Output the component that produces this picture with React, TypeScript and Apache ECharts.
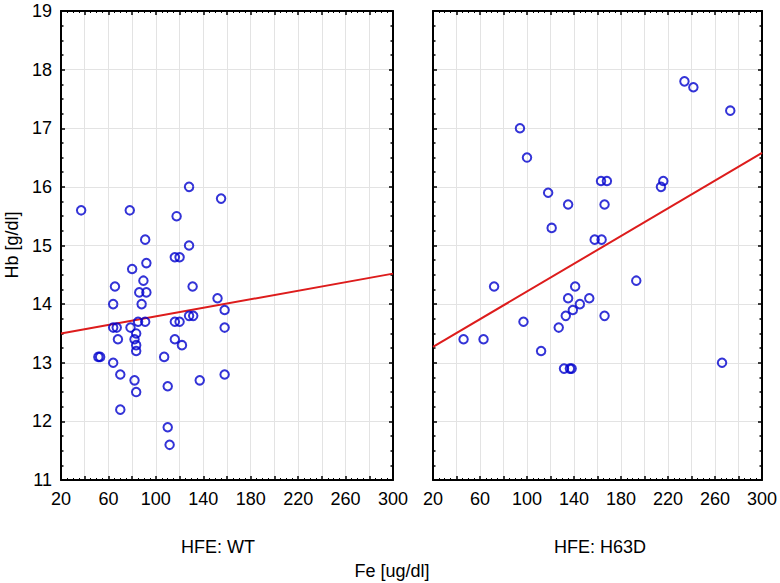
import React, { useEffect, useRef } from "react";
import * as echarts from "echarts";

// HFE: WT group
const wtFe = [37, 78, 128, 155, 117.5, 91, 128, 80, 92, 116, 120, 65.5, 89.5, 86, 92, 131, 64, 88, 152, 158, 128, 131.5, 64, 67, 78.6, 85, 91, 83.4, 82, 68, 116, 120, 116, 122, 158, 83.4, 83.4, 51.5, 53, 107, 64, 70, 82, 137, 158, 110, 83.4, 70, 110, 111.6];
const wtHb = [15.6, 15.6, 16.0, 15.8, 15.5, 15.1, 15.0, 14.6, 14.7, 14.8, 14.8, 14.3, 14.4, 14.2, 14.2, 14.3, 14.0, 14.0, 14.1, 13.9, 13.8, 13.8, 13.6, 13.6, 13.6, 13.7, 13.7, 13.5, 13.4, 13.4, 13.7, 13.7, 13.4, 13.3, 13.6, 13.3, 13.2, 13.1, 13.1, 13.1, 13.0, 12.8, 12.7, 12.7, 12.8, 12.6, 12.5, 12.2, 11.9, 11.6];

// HFE: H63D group
const h63dFe = [46, 63, 72, 94, 100, 97, 112, 118, 121, 135, 127, 133, 135, 141, 139, 145, 131.5, 136.5, 138, 153, 157.6, 163.5, 163, 168, 166, 166, 193, 214, 216, 234, 241.6, 273, 266];
const h63dHb = [13.4, 13.4, 14.3, 17.0, 16.5, 13.7, 13.2, 15.9, 15.3, 15.7, 13.6, 13.8, 14.1, 14.3, 13.9, 14.0, 12.9, 12.9, 12.9, 14.1, 15.1, 15.1, 16.1, 16.1, 15.7, 13.8, 14.4, 16.0, 16.1, 17.8, 17.7, 17.3, 13.0];

// Fitted regression lines (endpoints)
const fitX = [20, 300];
const wtFitY = [13.5, 14.52];
const h63dFitY = [13.27, 16.58];

const xTicks = { min: 20, max: 300, interval: 20 };
const yTicks = { min: 11, max: 19, interval: 1 };

const panelTitles = ["HFE: WT", "HFE: H63D"];
const xTitle = "Fe [ug/dl]";
const yTitle = "Hb [g/dl]";

const FONT = "'Liberation Sans', Arial, sans-serif";
const FS = 18;
const BLUE = "#0000CD";
const RED = "#DD1C1C";

export default function App() {
  const ref = useRef<HTMLDivElement>(null);
  useEffect(() => {
    if (!ref.current) return;
    const chart = echarts.init(ref.current, null, { renderer: "svg" });

    const grids = [
      { left: 61, top: 11, width: 332, height: 469 },
      { left: 433, top: 11, width: 331, height: 469 },
    ];

    const axisLine = { show: true, onZero: false, lineStyle: { color: "#000", width: 2 } };

    const xAxes: any[] = [];
    const yAxes: any[] = [];
    [0, 1].forEach((g) => {
      xAxes.push({
        type: "value",
        gridIndex: g,
        position: "bottom",
        ...xTicks,
        axisLine,
        axisTick: { show: true, inside: true, length: 4, lineStyle: { color: "#000", width: 1.5 } },
        minorTick: { show: true, splitNumber: 4, length: 2, lineStyle: { color: "#000", width: 1 } },
        axisLabel: {
          show: true,
          color: "#000",
          fontSize: FS,
          fontFamily: FONT,
          margin: 10,
          formatter: (v: number) => ((v - 20) % 40 === 0 ? String(v) : ""),
        },
        splitLine: { show: true, lineStyle: { color: "#e3e3e3", width: 1 } },
      });
      xAxes.push({
        type: "value",
        gridIndex: g,
        position: "top",
        ...xTicks,
        axisLine,
        axisTick: { show: true, inside: true, length: 4, lineStyle: { color: "#000", width: 1.5 } },
        minorTick: { show: true, splitNumber: 4, length: 2, lineStyle: { color: "#000", width: 1 } },
        axisLabel: { show: false },
        splitLine: { show: false },
      });
      yAxes.push({
        type: "value",
        gridIndex: g,
        position: "left",
        ...yTicks,
        axisLine,
        axisTick: { show: true, inside: true, length: 4, lineStyle: { color: "#000", width: 1.5 } },
        minorTick: { show: true, splitNumber: 4, length: 2.5, lineStyle: { color: "#000", width: 1.5 } },
        axisLabel: {
          show: g === 0,
          color: "#000",
          fontSize: FS,
          fontFamily: FONT,
          margin: 9,
        },
        splitLine: { show: true, lineStyle: { color: "#e3e3e3", width: 1 } },
      });
      yAxes.push({
        type: "value",
        gridIndex: g,
        position: "right",
        ...yTicks,
        axisLine,
        axisTick: { show: true, inside: true, length: 4, lineStyle: { color: "#000", width: 1.5 } },
        minorTick: { show: true, splitNumber: 4, length: 2.5, lineStyle: { color: "#000", width: 1.5 } },
        axisLabel: { show: false },
        splitLine: { show: false },
      });
    });

    const scatterStyle = {
      type: "scatter" as const,
      symbol: "circle",
      symbolSize: 8.5,
      itemStyle: { color: "rgba(255,255,255,0)", borderColor: BLUE, borderWidth: 2 },
      z: 5,
    };
    const lineStyle = {
      type: "line" as const,
      symbol: "none",
      lineStyle: { color: RED, width: 2 },
      z: 4,
    };

    const txt = (text: string, x: number, y: number, rotation = 0) => ({
      type: "text",
      x,
      y,
      rotation,
      style: { text, align: "center", verticalAlign: "middle", fontSize: FS, fontFamily: FONT, fill: "#000" },
    });

    chart.setOption({
      animation: false,
      backgroundColor: "#fff",
      grid: grids,
      xAxis: xAxes,
      yAxis: yAxes,
      series: [
        { ...scatterStyle, xAxisIndex: 0, yAxisIndex: 0, data: wtFe.map((x, i) => [x, wtHb[i]]) },
        { ...lineStyle, xAxisIndex: 0, yAxisIndex: 0, data: fitX.map((x, i) => [x, wtFitY[i]]) },
        { ...scatterStyle, xAxisIndex: 2, yAxisIndex: 2, data: h63dFe.map((x, i) => [x, h63dHb[i]]) },
        { ...lineStyle, xAxisIndex: 2, yAxisIndex: 2, data: fitX.map((x, i) => [x, h63dFitY[i]]) },
      ],
      graphic: [
        txt(panelTitles[0], 218, 547),
        txt(panelTitles[1], 600, 547),
        txt(xTitle, 392, 571),
        txt(yTitle, 12, 245, Math.PI / 2),
      ],
    });
    return () => chart.dispose();
  }, []);
  return <div ref={ref} style={{ position: "fixed", left: 0, top: 0, width: 780, height: 583 }} />;
}
